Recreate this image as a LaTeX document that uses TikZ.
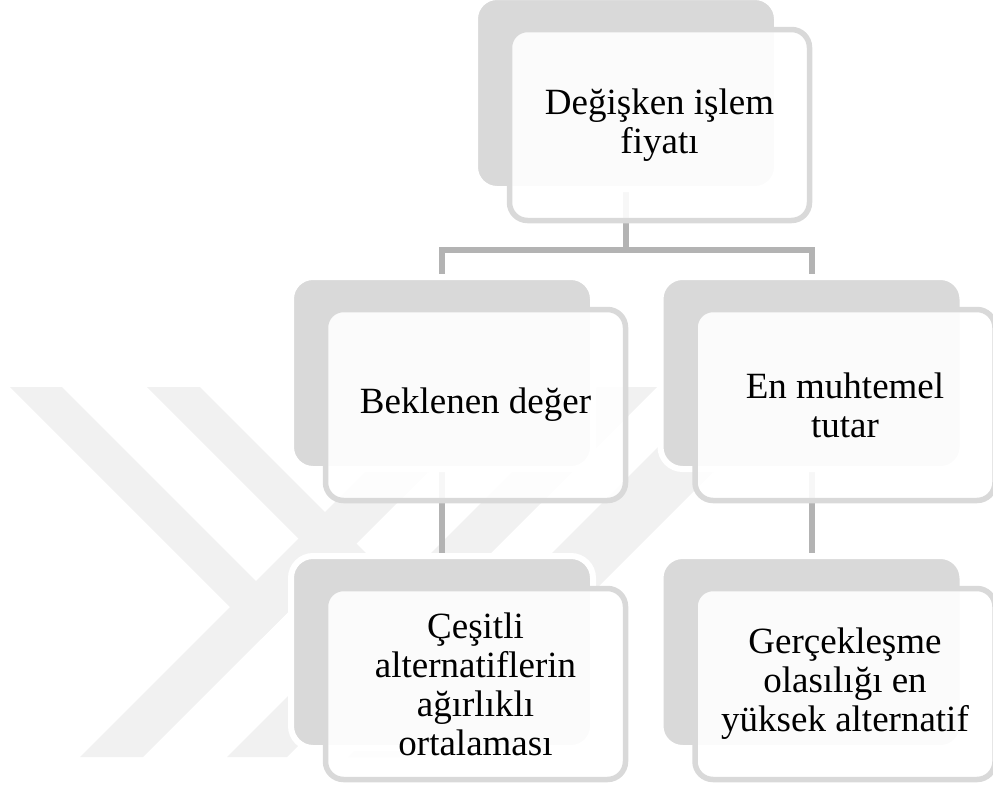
\documentclass[tikz,border=0pt]{standalone}
\usepackage{fontspec}
\setmainfont{Liberation Serif}
\definecolor{bk}{HTML}{D9D9D9}
\definecolor{fr}{HTML}{D9D9D9}
\definecolor{cn}{HTML}{B3B3B3}
\definecolor{wm}{HTML}{F1F1F1}
\begin{document}
\begin{tikzpicture}[x=1pt,y=-1pt,
  backbox/.style={rounded corners=22pt, fill=bk, draw=white, line width=6pt,
    minimum width=302pt, minimum height=192pt, inner sep=0pt},
  frontbox/.style={rounded corners=18pt, fill=white, fill opacity=0.9,
    draw=fr, draw opacity=1, text opacity=1, line width=5.5pt,
    minimum width=300pt, minimum height=191pt, inner sep=0pt,
    align=center, text=black, font=\fontsize{37}{39}\selectfont},
  conn/.style={draw=cn, line width=6pt},
  wmark/.style={fill=wm, draw=none}]
\useasboundingbox (0,0) rectangle (993,787);
% watermark
\fill[wmark] (10,387) -- (62,387) -- (287.5,612.5) -- (261.5,638.5) -- cycle;
\fill[wmark] (80,757) -- (143,757) -- (513,387) -- (450,387) -- cycle;
\fill[wmark] (147,387) -- (200,387) -- (428.5,615.5) -- (402,642) -- cycle;
\fill[wmark] (227,757) -- (287,757) -- (657,387) -- (597,387) -- cycle;
\fill[wmark] (348,757) -- (428,757) -- (798,387) -- (718,387) -- cycle;
% back boxes
\coordinate (c0) at (626,93);
\coordinate (c1) at (442,373);
\coordinate (c2) at (811.5,373);
\coordinate (c3) at (442,652);
\coordinate (c4) at (811.5,652);
% connectors (drawn under the boxes)
\coordinate (j) at (626,249.5);
\draw[conn] (c0) -- (j);
\draw[conn] (c1) |- (j) -| (c2);
\draw[conn] (c1) -- (c3);
\draw[conn] (c2) -- (c4);
\node[backbox] (b0) at (c0) {};
\node[backbox] (b1) at (c1) {};
\node[backbox] (b2) at (c2) {};
\node[backbox] (b3) at (c3) {};
\node[backbox] (b4) at (c4) {};
% front boxes
\node[frontbox] (f0) at ([shift={(33.5,32)}]c0) {Değişken işlem\\fiyatı};
\node[frontbox] (f1) at ([shift={(33.5,32)}]c1) {Beklenen değer};
\node[frontbox] (f2) at ([shift={(33.5,32)}]c2) {En muhtemel\\tutar};
\node[frontbox] (f3) at ([shift={(33.5,32)}]c3) {Çeşitli\\alternatiflerin\\ağırlıklı\\ortalaması};
\node[frontbox] (f4) at ([shift={(33.5,32)}]c4) {Gerçekleşme\\olasılığı en\\yüksek alternatif};
\end{tikzpicture}
\end{document}
